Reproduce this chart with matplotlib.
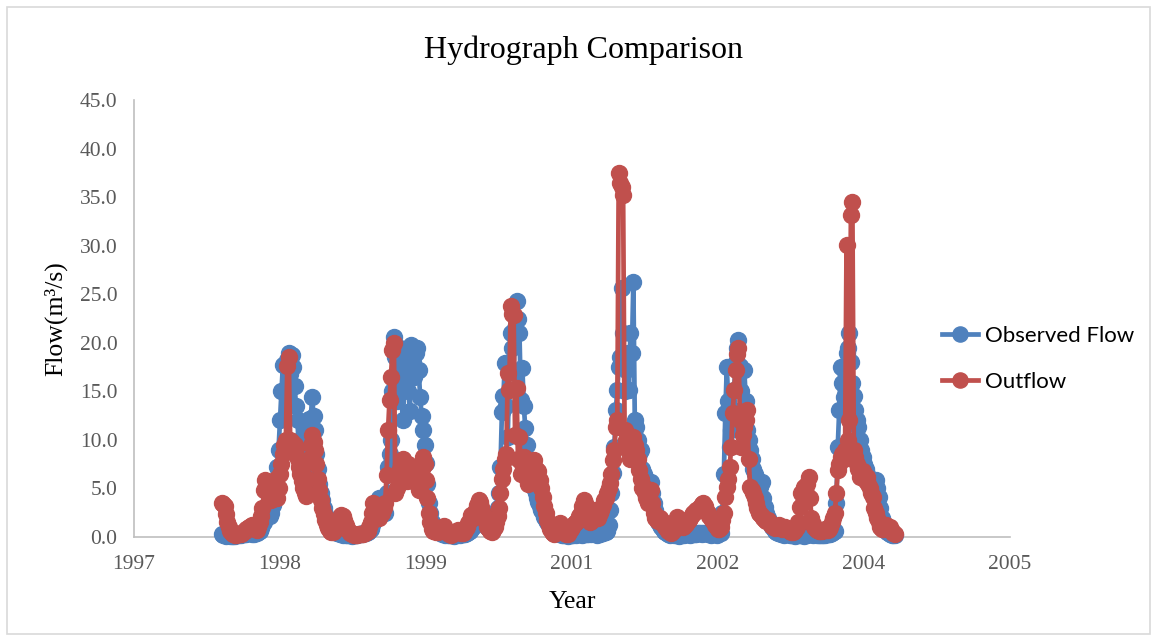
import numpy as np
import pandas as pd
import matplotlib.pyplot as plt
import matplotlib.patches as patches

# flow values every 5 days, starting 1997-12-26, split by wet season (m3/s)
obs_s1 = [0.3, 0.2, 0.2, 0.1, 0.2, 0.2, 0.1, 0.1, 0.1, 0.1, 0.2, 0.3, 0.2, 0.2, 0.3, 0.4, 0.3, 0.3, 0.4, 0.5,
          0.4, 0.3, 0.3, 0.4, 0.4, 0.5, 0.6, 0.9, 1.2, 1.5, 2.0, 2.8, 3.0, 2.2, 2.5, 3.3, 4.0, 5.5, 7.2, 9.0,
          12.0, 15.0, 17.7, 12.2, 14.6, 18.2, 19.0, 16.8, 18.7, 17.5, 15.6, 13.5, 12.0, 8.5, 10.0, 9.0, 8.0, 7.0,
          9.5, 11.0, 12.2, 12.0, 14.4, 12.5, 11.0, 8.5, 7.0, 5.5, 4.5, 3.8, 3.0, 2.4, 2.0, 1.6, 1.2, 1.0]
out_s1 = [3.5, 3.4, 3.2, 2.4, 1.5, 1.0, 0.6, 0.4, 0.3, 0.2, 0.2, 0.3, 0.3, 0.3, 0.4, 0.5, 0.6, 0.8, 0.9, 1.0,
          1.1, 1.2, 0.9, 0.8, 0.7, 1.0, 1.5, 2.2, 3.0, 4.8, 5.9, 5.0, 4.5, 5.5, 3.8, 4.2, 5.2, 6.0, 4.0, 5.0,
          6.5, 7.5, 8.5, 9.5, 10.0, 17.6, 18.5, 10.0, 9.8, 8.8, 9.5, 9.2, 8.0, 7.2, 6.5, 5.8, 5.0, 4.5,
          4.2, 6.0, 8.0, 9.5, 10.5, 9.8, 9.0, 7.5, 6.0, 4.8, 3.8, 3.0, 2.4, 1.8, 1.2, 0.9, 0.6, 0.5]

obs_s2 = [0.8, 0.6, 0.5, 0.4, 0.4, 0.3, 0.3, 0.2, 0.3, 0.2, 0.2, 0.2, 0.2, 0.1, 0.2, 0.2, 0.2, 0.2, 0.3, 0.3,
          0.3, 0.4, 0.4, 0.4, 0.5, 0.6, 0.8, 1.2, 1.5, 2.0, 2.5, 3.2, 4.0, 3.5, 3.0, 2.6, 2.5, 4.5, 7.2, 8.5,
          10.0, 15.0, 20.6, 18.5, 14.0, 17.0, 19.5, 16.0, 12.0, 15.5, 18.0, 19.0, 15.0, 13.0, 19.8, 18.0,
          16.5, 19.0, 19.5, 17.2, 14.4, 12.5, 11.0, 9.5, 7.6, 5.5, 3.5, 2.5, 1.5, 1.2]
out_s2 = [0.5, 0.6, 0.8, 1.2, 1.6, 2.0, 2.3, 2.2, 1.8, 1.2, 0.8, 0.6, 0.4, 0.3, 0.3, 0.2, 0.2, 0.2, 0.3, 0.3,
          0.3, 0.3, 0.4, 0.5, 0.6, 1.0, 1.5, 2.5, 3.5, 3.2, 2.8, 2.2, 2.0, 2.8, 2.5, 3.0, 3.5, 6.4, 11.0, 14.1,
          16.5, 19.3, 20.0, 4.5, 5.0, 6.0, 7.0, 7.5, 8.0, 6.8, 6.5, 5.8, 7.5, 6.8, 6.0, 7.2, 7.0, 6.0,
          5.5, 4.8, 6.5, 7.0, 8.2, 7.5, 5.9, 4.0, 2.5, 1.5, 0.8, 0.6]

obs_s3 = [1.0, 0.8, 0.6, 0.5, 0.4, 0.3, 0.3, 0.2, 0.3, 0.2, 0.2, 0.2, 0.2, 0.1, 0.2, 0.2, 0.3, 0.2, 0.3, 0.3,
          0.3, 0.3, 0.4, 0.5, 0.6, 0.8, 1.0, 1.2, 1.5, 1.8, 2.0, 2.2, 2.5, 2.0, 1.5, 1.2, 1.0, 0.9, 0.8, 0.8,
          1.0, 1.4, 2.0, 3.0, 4.5, 7.2, 12.9, 14.5, 17.9, 13.5, 10.3, 17.0, 21.0, 19.5, 17.0, 21.5, 24.3, 22.5,
          21.0, 14.1, 17.4, 13.5, 11.2, 9.5, 8.0, 7.0, 6.0, 5.5, 5.0, 4.5, 4.0, 3.6, 3.2, 2.8, 2.5, 2.1,
          1.8, 1.5, 1.2, 1.0, 0.8, 0.6, 0.5, 0.4]
out_s3 = [0.6, 0.5, 0.5, 0.7, 0.9, 1.0, 1.1, 0.8, 0.6, 0.4, 0.3, 0.2, 0.3, 0.4, 0.5, 0.6, 0.7, 0.5, 0.4, 0.4,
          0.5, 0.7, 1.0, 1.4, 1.8, 2.3, 2.0, 2.5, 2.8, 3.3, 3.8, 3.6, 3.1, 2.5, 2.0, 1.5, 1.0, 0.8, 0.6, 0.5,
          0.7, 1.0, 1.5, 2.2, 3.0, 4.5, 6.0, 7.0, 8.0, 8.5, 16.9, 15.1, 23.8, 23.0, 22.9, 10.5, 15.3, 8.0,
          10.3, 6.5, 7.5, 8.2, 7.0, 6.0, 5.5, 6.8, 6.5, 7.2, 7.9, 7.0, 6.5, 6.8, 5.9, 5.0, 4.1, 3.2,
          2.5, 1.8, 1.2, 0.8, 0.5, 0.4, 0.3, 0.5]

obs_s4 = [0.4, 0.3, 0.3, 0.2, 0.2, 0.2, 0.2, 0.1, 0.2, 0.2, 0.2, 0.2, 0.3, 0.2, 0.3, 0.3, 0.3, 0.2, 0.3, 0.3,
          0.3, 0.3, 0.4, 0.3, 0.4, 0.4, 0.3, 0.2, 0.3, 0.3, 0.4, 0.4, 0.5, 0.5, 0.6, 1.2, 2.8, 4.5, 6.6, 9.3,
          13.1, 15.1, 17.5, 18.5, 25.6, 21.0, 15.0, 17.2, 18.9, 15.1, 21.0, 19.0, 26.3, 12.0, 11.3, 10.0,
          8.6, 9.0, 7.0, 6.5, 6.0, 5.0, 4.5, 4.0, 5.7, 4.5, 3.5, 2.8, 2.0, 1.5, 1.2, 1.0, 0.8, 0.6, 0.5, 0.4]
out_s4 = [0.8, 1.2, 1.4, 1.0, 0.6, 0.4, 0.3, 0.3, 0.5, 0.8, 1.0, 1.2, 1.4, 1.5, 1.8, 2.2, 2.5, 3.2, 3.8, 3.5,
          2.8, 2.0, 1.5, 1.6, 2.0, 2.5, 2.8, 2.2, 2.0, 2.5, 2.8, 3.3, 3.8, 4.0, 4.5, 5.0, 5.6, 6.5, 7.9, 9.0,
          11.3, 12.0, 37.5, 36.5, 36.0, 35.2, 11.0, 10.0, 9.5, 8.8, 8.0, 9.0, 10.3, 9.5, 9.0, 8.0,
          6.9, 6.0, 5.0, 5.2, 4.5, 4.0, 3.5, 4.2, 4.8, 3.5, 2.5, 2.0, 1.8, 1.6, 2.0, 1.8, 1.5, 1.2, 1.0, 0.8]

obs_s5 = [0.3, 0.2, 0.3, 0.3, 0.2, 0.2, 0.2, 0.1, 0.2, 0.2, 0.3, 0.2, 0.3, 0.3, 0.3, 0.2, 0.3, 0.3, 0.3, 0.3,
          0.4, 0.4, 0.4, 0.3, 0.4, 0.4, 0.4, 0.3, 0.3, 0.2, 0.3, 0.3, 0.3, 0.2, 0.3, 0.4, 0.4, 2.5, 6.5, 12.8,
          17.5, 14.0, 9.3, 11.0, 13.1, 15.1, 18.0, 19.5, 20.3, 17.6, 15.0, 13.0, 17.2, 14.0, 11.0, 10.0,
          9.0, 8.0, 7.0, 6.5, 6.0, 5.0, 4.5, 5.2, 5.7, 4.0, 3.1, 2.5, 2.0, 1.5, 1.2, 1.0, 0.8, 0.6, 0.5, 0.4]
out_s5 = [0.6, 0.5, 0.4, 0.6, 1.0, 1.5, 2.1, 1.8, 1.5, 1.2, 1.0, 1.1, 1.3, 1.5, 1.8, 2.0, 2.3, 2.5, 2.6, 2.8,
          2.8, 3.0, 3.2, 3.4, 3.5, 3.2, 2.8, 2.5, 2.2, 2.0, 1.8, 1.5, 1.2, 1.0, 0.8, 0.8, 1.0, 1.8, 2.5, 4.1,
          5.1, 6.0, 7.2, 9.3, 12.8, 15.1, 17.2, 18.8, 19.5, 12.0, 9.3, 10.5, 11.3, 12.0, 13.1, 8.0,
          5.1, 4.8, 4.5, 4.0, 3.5, 3.0, 2.5, 2.4, 2.2, 2.0, 1.8, 1.6, 1.8, 1.5, 1.2, 1.1, 1.0, 0.9, 1.0, 1.0]

obs_s6 = [0.4, 0.3, 0.3, 0.2, 0.3, 0.3, 0.3, 0.2, 0.2, 0.2, 0.2, 0.1, 0.2, 0.2, 0.2, 0.2, 0.2, 0.1, 0.2, 0.2,
          0.3, 0.3, 0.3, 0.2, 0.3, 0.3, 0.2, 0.2, 0.2, 0.2, 0.2, 0.2, 0.3, 0.3, 0.3, 0.3, 0.4, 0.5, 0.6, 3.5,
          9.3, 13.1, 17.5, 15.9, 14.4, 17.0, 18.9, 19.5, 21.0, 18.0, 15.9, 14.5, 13.1, 12.0, 11.3, 10.0,
          9.0, 8.2, 7.5, 7.0, 6.5, 6.0, 5.5, 5.2, 5.0, 5.7, 5.9, 5.0, 4.1, 3.0, 2.0, 1.5, 1.0, 0.8,
          0.5, 0.4, 0.3, 0.2, 0.2, 0.2]
out_s6 = [1.2, 1.0, 0.8, 0.9, 1.0, 0.8, 0.7, 0.6, 0.5, 0.5, 0.6, 0.7, 1.0, 1.5, 3.1, 4.5, 3.5, 5.1, 4.5, 5.5,
          6.2, 4.0, 2.0, 1.3, 1.0, 0.8, 0.7, 0.6, 0.6, 0.6, 0.7, 0.8, 0.7, 0.7, 0.8, 1.0, 1.5, 2.0, 2.5, 4.5,
          6.9, 7.5, 8.2, 8.5, 8.0, 9.0, 30.1, 10.0, 12.0, 33.2, 34.5, 9.0, 8.2, 7.5, 7.0, 6.2, 6.6, 6.8,
          6.2, 5.8, 6.2, 5.5, 5.0, 4.5, 4.1, 3.0, 2.5, 2.0, 1.5, 1.0, 0.8, 0.8, 1.0, 1.2, 1.0, 0.8,
          1.0, 0.6, 0.4, 0.3]

tick_labels = ['1997', '1998', '1999', '2001', '2002', '2004', '2005']
y_ticks = [0, 5, 10, 15, 20, 25, 30, 35, 40, 45]

observed = obs_s1 + obs_s2 + obs_s3 + obs_s4 + obs_s5 + obs_s6
outflow = out_s1 + out_s2 + out_s3 + out_s4 + out_s5 + out_s6
obs_dates = pd.date_range('1997-12-26', periods=len(observed), freq='5D')
out_dates = pd.date_range('1997-12-26', periods=len(outflow), freq='5D')
tick_dates = pd.date_range('1997-03-01', periods=len(tick_labels), freq='500D')

serif = 'Liberation Serif'
blue = '#4F81BD'
red = '#C0504D'

fig = plt.figure(figsize=(11.57, 6.41), dpi=100)
ax = fig.add_axes([0.1158, 0.1622, 0.7572, 0.6818])

ax.plot(obs_dates, observed, color=blue, lw=3.4, marker='o', ms=11.5, label='Observed Flow',
        clip_on=False, zorder=3)
ax.plot(out_dates, outflow, color=red, lw=3.4, marker='o', ms=11.5, label='Outflow',
        clip_on=False, zorder=4)

ax.set_xlim(tick_dates[0], tick_dates[-1])
ax.set_ylim(0, 45)
ax.set_xticks(tick_dates)
ax.set_xticklabels(tick_labels)
ax.set_yticks(y_ticks)
ax.set_yticklabels(['%.1f' % v for v in y_ticks])
ax.tick_params(length=0, labelsize=15.5, labelcolor='#595959')
ax.tick_params(axis='y', pad=12)
ax.tick_params(axis='x', pad=13)
for t in ax.get_xticklabels() + ax.get_yticklabels():
    t.set_fontfamily(serif)

for s in ['top', 'right']:
    ax.spines[s].set_visible(False)
for s in ['left', 'bottom']:
    ax.spines[s].set_color('#BFBFBF')
    ax.spines[s].set_linewidth(1.2)

ax.set_xlabel('Year', fontsize=18.5, family=serif, labelpad=12)
ax.set_ylabel('Flow(m³/s)', fontsize=18.5, family=serif, labelpad=9)
fig.text(0.504, 0.921, 'Hydrograph Comparison', ha='center', va='center', fontsize=23, family=serif)

fig.legend(loc='center left', bbox_to_anchor=(0.797, 0.440), frameon=False,
           prop={'family': 'Lato', 'size': 16}, handlelength=1.6, handletextpad=0.35,
           labelspacing=1.15, markerscale=0.95)

fig.patches.append(patches.Rectangle((0.006, 0.011), 0.988, 0.978, transform=fig.transFigure,
                                     fill=False, edgecolor='#D9D9D9', lw=1.2))

fig.savefig('out.png', dpi=100)
